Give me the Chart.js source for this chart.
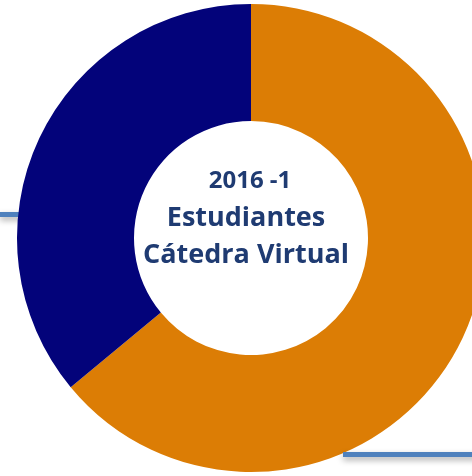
<!DOCTYPE html>
<html>
<head>
<meta charset="utf-8">
<script src="https://cdn.jsdelivr.net/npm/chart.js@4"></script>
<style>
  html, body { margin: 0; padding: 0; background: #fff; overflow: hidden; }
  #wrap { position: relative; width: 502px; height: 476px; }
</style>
</head>
<body>
<div id="wrap"><canvas id="donut" width="502" height="476"></canvas></div>
<script>
const labels = ['Otros', 'Cátedra Virtual'];
const values = [64, 36];
const colors = ['#dc7d05', '#03037a'];
const centerLines = ['2016 -1', 'Estudiantes', 'Cátedra Virtual'];

// light blue rules behind / over the ring, like the slide decoration
const decoration = {
  id: 'decoration',
  beforeDatasetsDraw(chart) {
    const ctx = chart.ctx;
    ctx.save();
    ctx.shadowColor = 'rgba(0,0,0,0.35)';
    ctx.shadowBlur = 6;
    ctx.shadowOffsetY = 3;
    ctx.fillStyle = '#4f81bd';
    ctx.fillRect(0, 212, 60, 5);
    ctx.restore();
  },
  afterDatasetsDraw(chart) {
    const ctx = chart.ctx;
    ctx.save();
    ctx.shadowColor = 'rgba(0,0,0,0.35)';
    ctx.shadowBlur = 6;
    ctx.shadowOffsetY = 3;
    ctx.fillStyle = '#4f81bd';
    ctx.fillRect(343, 452, 160, 5);
    ctx.restore();
  },
  afterDraw(chart) {
    const ctx = chart.ctx;
    ctx.save();
    ctx.fillStyle = '#1f3b72';
    ctx.textAlign = 'center';
    ctx.textBaseline = 'alphabetic';
    ctx.font = 'bold 24px "Open Sans"';
    ctx.fillText(centerLines[0], 250, 188);
    ctx.font = 'bold 27px "Open Sans"';
    ctx.fillText(centerLines[1], 246, 226);
    ctx.fillText(centerLines[2], 246, 263);
    ctx.restore();
  }
};

new Chart(document.getElementById('donut'), {
  type: 'doughnut',
  data: {
    labels: labels,
    datasets: [{
      data: values,
      backgroundColor: colors,
      borderWidth: 0
    }]
  },
  options: {
    responsive: false,
    animation: false,
    cutout: '50%',
    layout: { padding: { top: 4, bottom: 4 } },
    plugins: {
      legend: { display: false },
      tooltip: { enabled: false }
    }
  },
  plugins: [decoration]
});
</script>
</body>
</html>
